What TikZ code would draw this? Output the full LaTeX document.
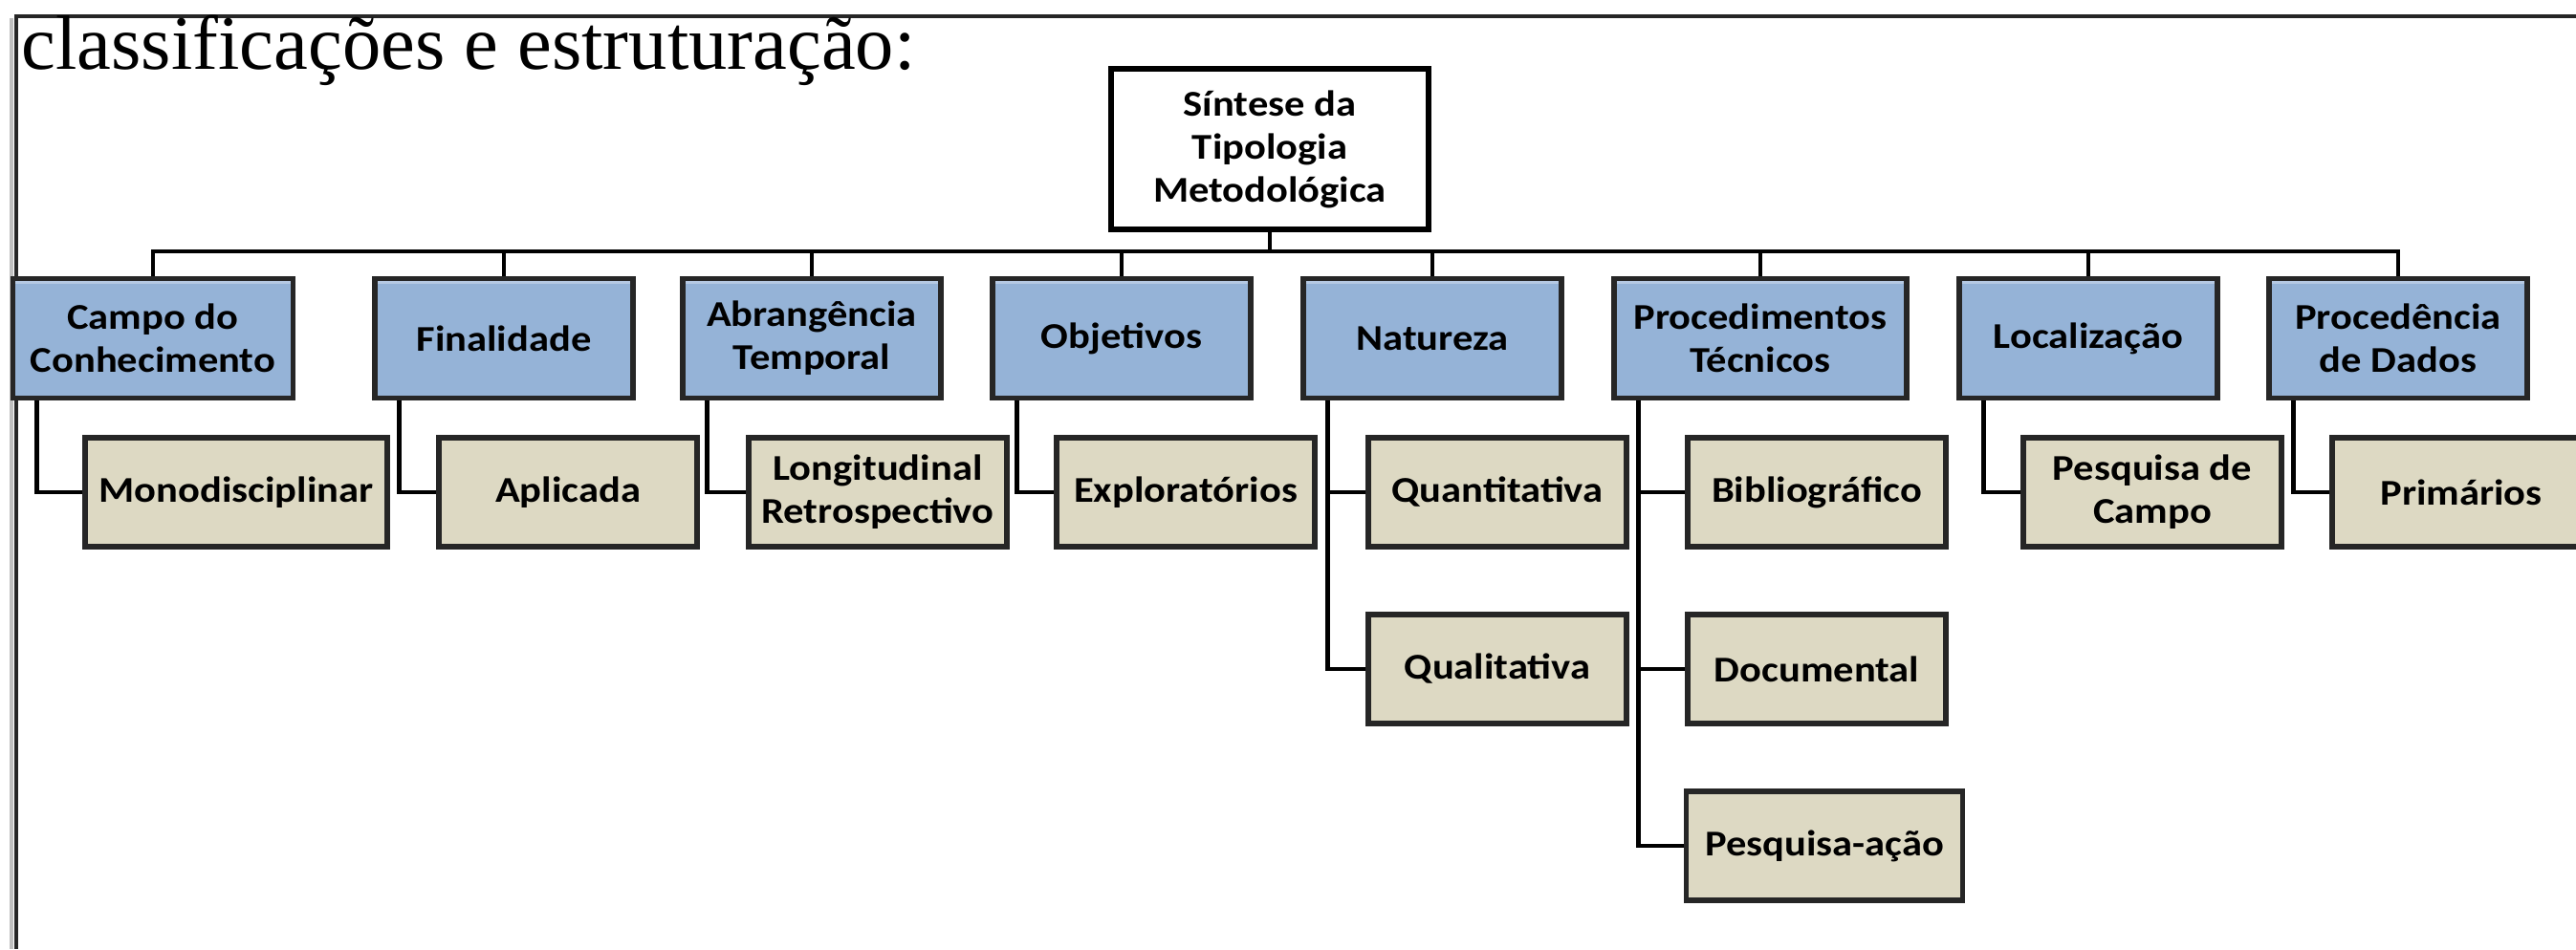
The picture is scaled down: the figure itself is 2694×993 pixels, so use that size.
\documentclass[tikz,border=0pt]{standalone}
\usepackage{fontspec}
\setmainfont{Liberation Serif}
\newfontfamily\boxfont{Carlito}[FakeStretch=1.12]
\usepackage{tikz}
\usetikzlibrary{calc, shadows}

\definecolor{boxblue}{RGB}{149,179,215}
\definecolor{boxtan}{RGB}{221,217,195}
\definecolor{boxline}{RGB}{38,38,38}

\tikzset{
  basenode/.style={draw=boxline, line width=1.6pt, align=center, inner sep=2pt,
    font=\boxfont\bfseries\fontsize{10.8}{12.8}\selectfont,
    drop shadow={shadow xshift=0.6pt, shadow yshift=-0.6pt, fill=black!40}},
  rootnode/.style={basenode, fill=white, draw=black, minimum width=3.32cm, minimum height=1.68cm},
  catnode/.style={basenode, fill=boxblue, minimum width=2.7cm, minimum height=1.25cm,
    path picture={\fill[white, opacity=0.3] (path picture bounding box.north west)
      rectangle ([yshift=-1.5pt]path picture bounding box.north east);}},
  leafnode/.style={basenode, fill=boxtan, minimum width=2.7cm, minimum height=1.14cm},
  conn/.style={line width=1.4pt, black},
}

\begin{document}
\begin{tikzpicture}[x=0.01cm, y=-0.01cm]
    \useasboundingbox (0,0) rectangle (2694,993);

    % moldura da tabela
    \draw[gray!50, line width=1.1pt] (12,19) -- (12,993);
    \draw[black!85, line width=1.3pt] (2694,17) -| (17,993);

    % texto de cima
    \node[anchor=base west, inner sep=0pt, font=\fontsize{22.9}{27}\selectfont] (titulo) at (22,72)
        {classificações e estruturação:};

    % 1. Raiz
    \node[rootnode] (raiz) at (1328,156) {Síntese da\\Tipologia\\Metodológica};

    % 2. Categorias
    \node[catnode, minimum width=2.93cm] (campo) at (160,354) {Campo do\\Conhecimento};
    \node[catnode] (finalidade) at (527,354) {Finalidade};
    \node[catnode] (abrangencia) at (849,354) {Abrangência\\Temporal};
    \node[catnode] (objetivos) at (1173,354) {Objetivos};
    \node[catnode] (natureza) at (1498,354) {Natureza};
    \node[catnode, minimum width=3.06cm] (procedimentos) at (1841,354) {Procedimentos\\Técnicos};
    \node[catnode] (localizacao) at (2184,354) {Localização};
    \node[catnode] (procedencia) at (2508,354) {Procedência\\de Dados};

    % 3. Folhas
    \node[leafnode, minimum width=3.16cm] (mono) at (247,515) {Monodisciplinar};
    \node[leafnode] (aplicada) at (594,515) {Aplicada};
    \node[leafnode] (longitudinal) at (918,515) {Longitudinal\\Retrospectivo};
    \node[leafnode] (exploratorios) at (1240,515) {Exploratórios};
    \node[leafnode] (quanti) at (1566,515) {Quantitativa};
    \node[leafnode] (quali) at (1566,700) {Qualitativa};
    \node[leafnode] (biblio) at (1900,515) {Bibliográfico};
    \node[leafnode] (documental) at (1900,700) {Documental};
    \node[leafnode, minimum width=2.89cm] (acao) at (1908,885) {Pesquisa-ação};
    \node[leafnode] (pcampo) at (2251,515) {Pesquisa de\\Campo};
    \node[leafnode] (primarios) at (2574,515) {Primários};

    % 4. Ligações
    \coordinate (barra) at (1328,263);
    \draw[conn] (raiz.south) -- (barra);
    \foreach \n in {campo, finalidade, abrangencia, objetivos, natureza, procedimentos, localizacao, procedencia}
        \draw[conn] (\n.north) |- (barra);

    \foreach \p/\f in {campo/mono, finalidade/aplicada, abrangencia/longitudinal,
        objetivos/exploratorios, natureza/quanti, natureza/quali, procedimentos/biblio,
        procedimentos/documental, procedimentos/acao, localizacao/pcampo, procedencia/primarios}
        \draw[conn] ($(\p.south west)+(28,0)$) |- (\f.west);
\end{tikzpicture}
\end{document}
